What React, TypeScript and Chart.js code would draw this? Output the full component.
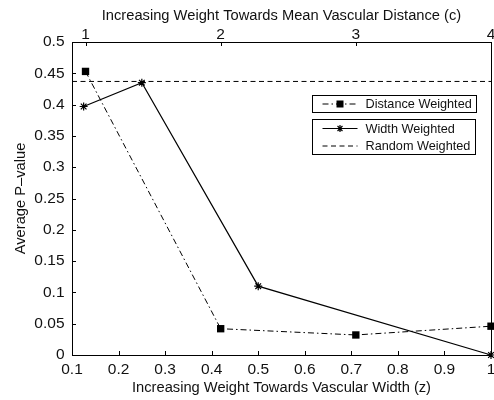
import React, { useEffect, useRef } from "react";
import { Chart, registerables } from "chart.js";

Chart.register(...registerables);

// ---- data ----
const widthZ = [0.125, 0.25, 0.5, 1.0];
const widthP = [0.397, 0.435, 0.11, 0.0];
const distanceC = [1, 2, 3, 4];
const distanceP = [0.453, 0.042, 0.032, 0.046];
const randomZ = [0.1, 1.0];
const randomP = [0.437, 0.437];

const seriesNames = ["Distance Weighted", "Width Weighted", "Random Weighted"];

const zTicks = [0.1, 0.2, 0.3, 0.4, 0.5, 0.6, 0.7, 0.8, 0.9, 1.0];
const zTickLabels = ["0.1", "0.2", "0.3", "0.4", "0.5", "0.6", "0.7", "0.8", "0.9", "1"];
const cTicks = [1, 2, 3, 4];
const cTickLabels = ["1", "2", "3", "4"];
const pTicks = [0, 0.05, 0.1, 0.15, 0.2, 0.25, 0.3, 0.35, 0.4, 0.45, 0.5];
const pTickLabels = ["0", "0.05", "0.1", "0.15", "0.2", "0.25", "0.3", "0.35", "0.4", "0.45", "0.5"];

const xTitle = "Increasing Weight Towards Vascular Width (z)";
const x2Title = "Increasing Weight Towards Mean Vascular Distance (c)";
const yTitle = "Average P\u2013value";

const FONT = "'Liberation Sans', Arial, Helvetica, sans-serif";
const INK = "#111";

function drawAsterisk(ctx: CanvasRenderingContext2D, x: number, y: number, r: number) {
  ctx.beginPath();
  for (let k = 0; k < 4; k++) {
    const a = (k * Math.PI) / 4;
    ctx.moveTo(x - r * Math.cos(a), y - r * Math.sin(a));
    ctx.lineTo(x + r * Math.cos(a), y + r * Math.sin(a));
  }
  ctx.stroke();
}

const framePlugin = {
  id: "frame",
  afterDatasetsDraw(chart: any) {
    const ctx: CanvasRenderingContext2D = chart.ctx;
    const ca = chart.chartArea;
    const sx = chart.scales.x;
    const sx2 = chart.scales.x2;
    const sy = chart.scales.y;
    ctx.save();
    ctx.strokeStyle = "#000";
    ctx.lineWidth = 1;
    ctx.setLineDash([]);
    ctx.strokeRect(Math.round(ca.left) + 0.5, Math.round(ca.top) + 0.5, Math.round(ca.right - ca.left), Math.round(ca.bottom - ca.top));
    const tl = 4;
    ctx.beginPath();
    zTicks.forEach((v) => {
      const px = Math.round(sx.getPixelForValue(v)) + 0.5;
      ctx.moveTo(px, ca.bottom);
      ctx.lineTo(px, ca.bottom - tl);
    });
    cTicks.forEach((v) => {
      const px = Math.round(sx2.getPixelForValue(v)) + 0.5;
      ctx.moveTo(px, ca.top);
      ctx.lineTo(px, ca.top + tl);
    });
    pTicks.forEach((v) => {
      const py = Math.round(sy.getPixelForValue(v)) + 0.5;
      ctx.moveTo(ca.left, py);
      ctx.lineTo(ca.left + tl, py);
    });
    ctx.stroke();

    // legend boxes
    const lx = Math.round(ca.right - 179) + 0.5;
    const lw = 164;
    const sampleL = lx + 10;
    const sampleR = lx + 45;
    const textX = lx + 53;
    ctx.font = `12.7px ${FONT}`;
    ctx.textBaseline = "middle";
    ctx.textAlign = "left";

    const b1t = Math.round(ca.top + 53) + 0.5;
    const b1h = 17;
    ctx.fillStyle = "#fff";
    ctx.fillRect(lx, b1t, lw, b1h);
    ctx.strokeStyle = "#000";
    ctx.lineWidth = 1;
    ctx.strokeRect(lx, b1t, lw, b1h);
    const y1 = b1t + b1h / 2;
    ctx.setLineDash([6, 3, 1.5, 3]);
    ctx.beginPath();
    ctx.moveTo(sampleL, y1);
    ctx.lineTo(sampleR, y1);
    ctx.stroke();
    ctx.setLineDash([]);
    ctx.fillStyle = "#000";
    ctx.fillRect((sampleL + sampleR) / 2 - 3.5, y1 - 3.5, 7, 7);
    ctx.fillStyle = INK;
    ctx.fillText(seriesNames[0], textX, y1 + 0.5);

    const b2t = Math.round(ca.top + 77) + 0.5;
    const b2h = 35;
    ctx.fillStyle = "#fff";
    ctx.fillRect(lx, b2t, lw - 1, b2h);
    ctx.strokeRect(lx, b2t, lw - 1, b2h);
    const y2 = b2t + 9;
    const y3 = b2t + 26.5;
    ctx.lineWidth = 1.2;
    ctx.beginPath();
    ctx.moveTo(sampleL, y2);
    ctx.lineTo(sampleR, y2);
    ctx.stroke();
    drawAsterisk(ctx, (sampleL + sampleR) / 2, y2, 3.5);
    ctx.lineWidth = 1;
    ctx.setLineDash([5, 3.5]);
    ctx.beginPath();
    ctx.moveTo(sampleL, y3);
    ctx.lineTo(sampleR, y3);
    ctx.stroke();
    ctx.setLineDash([]);
    ctx.fillStyle = INK;
    ctx.fillText(seriesNames[1], textX, y2 + 0.5);
    ctx.fillText(seriesNames[2], textX, y3 + 0.5);
    ctx.restore();
  },
};

export default function App() {
  const canvasRef = useRef<HTMLCanvasElement | null>(null);

  useEffect(() => {
    const canvas = canvasRef.current;
    if (!canvas) return;
    const tickFont = { family: FONT, size: 15.5, lineHeight: 1 };
    const titleFont = { family: FONT, size: 14.7, lineHeight: 1 };

    const chart = new Chart(canvas, {
      type: "scatter",
      data: {
        datasets: [
          {
            label: seriesNames[0],
            xAxisID: "x2",
            yAxisID: "y",
            data: distanceC.map((c, i) => ({ x: c, y: distanceP[i] })),
            showLine: true,
            borderColor: "#000",
            backgroundColor: "#000",
            borderWidth: 1,
            borderDash: [6, 3, 1.5, 3],
            pointStyle: "rect",
            pointRadius: 5.2,
            pointBorderWidth: 0,
            pointBackgroundColor: "#000",
            clip: false,
          } as any,
          {
            label: seriesNames[1],
            xAxisID: "x",
            yAxisID: "y",
            data: widthZ.map((z, i) => ({ x: z, y: widthP[i] })),
            showLine: true,
            borderColor: "#000",
            backgroundColor: "#000",
            borderWidth: 1.2,
            pointStyle: "star",
            pointRadius: 4,
            pointBorderWidth: 1.2,
            pointBorderColor: "#000",
            clip: false,
          } as any,
          {
            label: seriesNames[2],
            xAxisID: "x",
            yAxisID: "y",
            data: randomZ.map((z, i) => ({ x: z, y: randomP[i] })),
            showLine: true,
            borderColor: "#000",
            borderWidth: 1,
            borderDash: [5, 3.5],
            pointRadius: 0,
            clip: false,
          } as any,
        ],
      },
      options: {
        animation: false,
        responsive: false,
        events: [],
        layout: { autoPadding: false, padding: { left: 0, right: 3, top: 0, bottom: 0 } },
        plugins: {
          legend: { display: false },
          tooltip: { enabled: false },
        },
        scales: {
          x: {
            type: "linear",
            position: "bottom",
            min: 0.1,
            max: 1,
            afterBuildTicks: (s: any) => {
              s.ticks = zTicks.map((v) => ({ value: v }));
            },
            afterFit: (s: any) => {
              s.height = 45;
              s.paddingLeft = 0;
              s.paddingRight = 0;
            },
            ticks: {
              autoSkip: false,
              maxRotation: 0,
              minRotation: 0,
              padding: 7,
              font: tickFont,
              color: INK,
              callback: (_v: any, i: number) => zTickLabels[i],
            },
            grid: { display: false, drawTicks: false },
            border: { display: false },
            title: {
              display: true,
              text: xTitle,
              color: INK,
              font: titleFont,
              padding: { top: 0, bottom: 5 },
            },
          },
          x2: {
            type: "linear",
            position: "top",
            min: 0.9,
            max: 4,
            afterBuildTicks: (s: any) => {
              s.ticks = cTicks.map((v) => ({ value: v }));
            },
            afterFit: (s: any) => {
              s.height = 42;
              s.paddingLeft = 0;
              s.paddingRight = 0;
            },
            ticks: {
              autoSkip: false,
              maxRotation: 0,
              minRotation: 0,
              padding: 0,
              font: tickFont,
              color: INK,
              callback: (_v: any, i: number) => cTickLabels[i],
            },
            grid: { display: false, drawTicks: false },
            border: { display: false },
            title: {
              display: true,
              text: x2Title,
              color: INK,
              font: titleFont,
              padding: { top: 8.5, bottom: 0 },
            },
          },
          y: {
            type: "linear",
            position: "left",
            min: 0,
            max: 0.5,
            afterBuildTicks: (s: any) => {
              s.ticks = pTicks.map((v) => ({ value: v }));
            },
            afterFit: (s: any) => {
              s.width = 72;
              s.paddingTop = 0;
              s.paddingBottom = 0;
            },
            ticks: {
              autoSkip: false,
              padding: 7.5,
              font: tickFont,
              color: INK,
              callback: (_v: any, i: number) => pTickLabels[i],
            },
            grid: { display: false, drawTicks: false },
            border: { display: false },
            title: {
              display: true,
              text: yTitle,
              color: INK,
              font: titleFont,
              padding: { top: 14, bottom: 0 },
            },
          },
        },
      } as any,
      plugins: [framePlugin],
    });
    return () => chart.destroy();
  }, []);

  return (
    <div style={{ position: "fixed", left: 0, top: 0, width: 494, height: 400, background: "#fff" }}>
      <canvas ref={canvasRef} width={494} height={400} style={{ display: "block" }} />
    </div>
  );
}
